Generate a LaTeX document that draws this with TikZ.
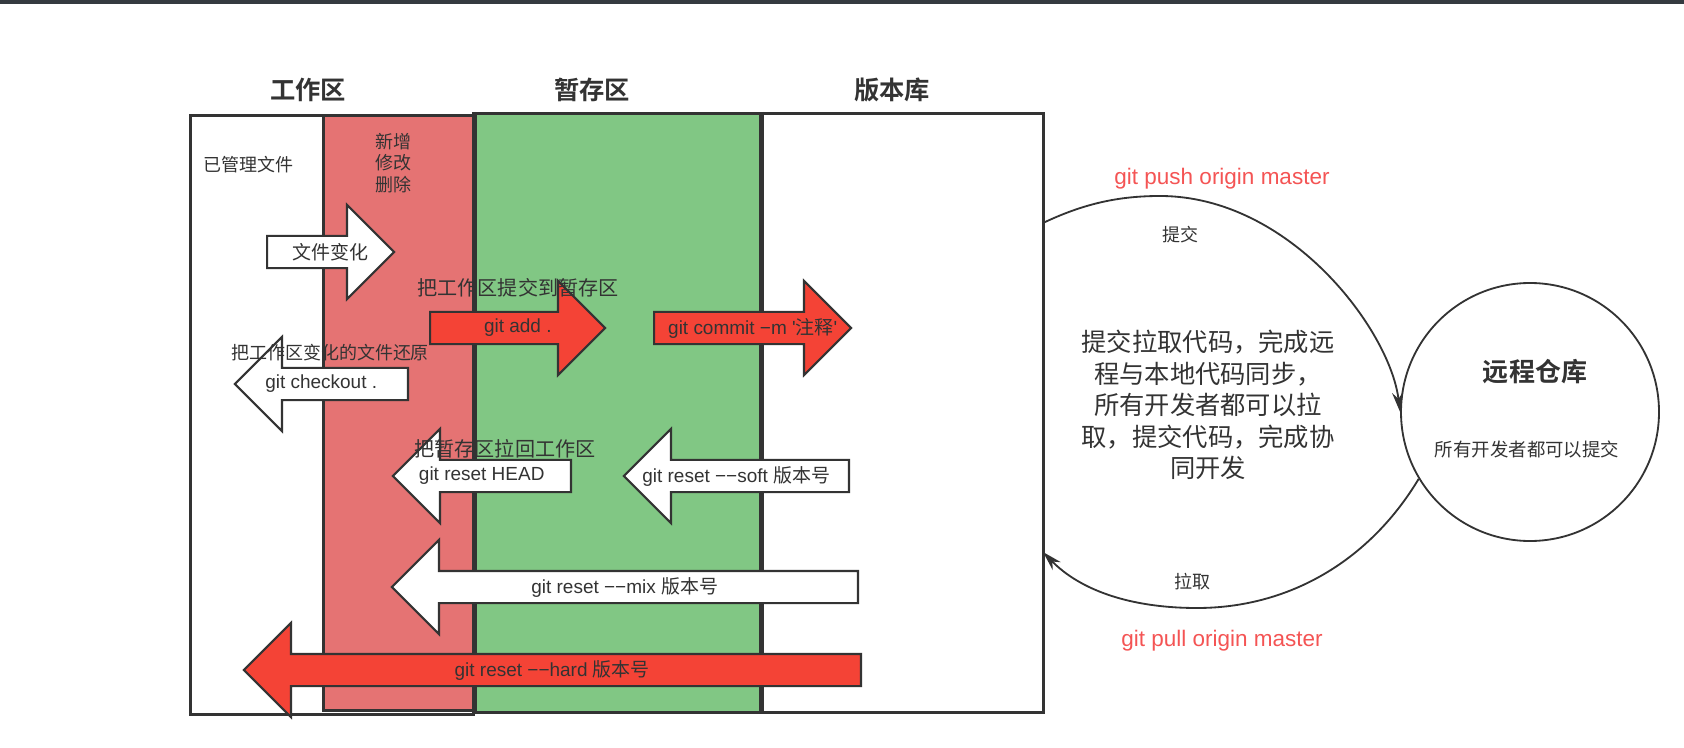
\documentclass[tikz,border=0pt]{standalone}
\usepackage{fontspec}
\setmainfont{Noto Sans CJK SC}[BoldFont={Noto Sans CJK SC Bold}]
\newfontfamily\gitfont{Liberation Sans}[Ligatures=TeXOff]
\newcommand\zh[1]{{\normalfont#1}}
\usetikzlibrary{shapes.arrows,arrows.meta,calc}

\definecolor{ink}{HTML}{333333}
\definecolor{wsred}{HTML}{E57373}
\definecolor{stgreen}{HTML}{81C784}
\definecolor{arrred}{HTML}{F44336}
\definecolor{cmdred}{HTML}{F45454}
\definecolor{topbar}{HTML}{353A40}

\begin{document}
\begin{tikzpicture}[x=0.025cm, y=-0.025cm,
  zone/.style={rectangle, draw=ink, line width=1.8pt, fill=#1, inner sep=0pt, anchor=north west},
  ttl/.style={font=\fontsize{18}{20}\selectfont\bfseries, text=ink},
  note/.style={font=\fontsize{12.8}{15.4}\selectfont, text=ink, inner sep=0pt, align=center},
  blk/.style={single arrow, draw=ink, line width=1.5pt, fill=#1, inner xsep=0pt,
    inner ysep=0.375cm, single arrow head extend=0.775cm, single arrow tip angle=90, anchor=tail},
  len/.style={minimum height=#1*0.025cm},
  atxt/.style={font=\gitfont\fontsize{13.5}{16}\selectfont, text=ink, inner sep=0pt},
  cmd/.style={font=\gitfont\fontsize{16}{18}\selectfont, text=cmdred},
  flow/.style={draw=ink, line width=1.3pt, -{Stealth[length=14pt, width=8pt]}}
]
\useasboundingbox (0,0) rectangle (1684,748);
\fill[topbar] (0,0) rectangle (1684,4);

% 三个区域
\node[zone=white, minimum width=283*0.025cm, minimum height=599*0.025cm] (work) at (189,114) {};
\node[zone=wsred, minimum width=150*0.025cm, minimum height=595*0.025cm] (dirty) at (322,114) {};
\node[zone=stgreen, minimum width=285*0.025cm, minimum height=599*0.025cm] (stage) at (474,112) {};
\node[zone=white, minimum width=283*0.025cm, minimum height=599*0.025cm] (repo) at (759,112) {};
\draw[ink, line width=3pt] (stage.north west) -- (stage.south west);
\draw[ink, line width=3pt] (stage.north east) -- (stage.south east);

\foreach \n/\x/\t in {work/308/工作区, stage/592/暂存区, repo/892/版本库}
  \node[ttl] (\n-t) at (\x,90) {\t};

% 操作箭头
\node[blk=white,  len=127] (chg) at (266,252) {};
\node[blk=arrred, len=175] (add) at (429,328) {};
\node[blk=arrred, len=197] (commit) at (653,328) {};
\node[blk=white,  len=173, rotate=180] (checkout) at (409,384) {};
\node[blk=white,  len=178, rotate=180] (rsthead) at (572,476) {};
\node[blk=white,  len=225, rotate=180] (soft) at (850,476) {};
\node[blk=white,  len=466, rotate=180] (mix) at (859,587) {};
\node[blk=arrred, len=617, rotate=180] (hard) at (862,670) {};

\foreach \n/\t in {chg/{\zh{文件变化}}, add/{git add .}, commit/{git commit −m '\zh{注释}'},
    checkout/{git checkout .}, rsthead/{git reset HEAD}, soft/{git reset −−soft \zh{版本号}},
    mix/{git reset −−mix \zh{版本号}}, hard/{git reset −−hard \zh{版本号}}}
  \node[atxt] (\n-t) at ($(\n.tail)!.5!(\n.tip)$) {\t};

\node[note] (managed) at (248,165) {已管理文件};
\node[note] (changes) at (393,163) {新增\\修改\\删除};
\node[note, font=\fontsize{14.3}{16}\selectfont] (tostage) at (518,288) {把工作区提交到暂存区};
\node[note] (restore) at (330,353) {把工作区变化的文件还原};
\node[note, font=\fontsize{14.3}{16}\selectfont] (towork) at (505,449) {把暂存区拉回工作区};

% 远程仓库
\node[circle, draw=ink, line width=1.3pt, minimum size=258*0.025cm, inner sep=0pt] (remote) at (1530,412) {};
\node[font=\fontsize{18.5}{20}\selectfont\bfseries, text=ink] (remote-t) at (1535,372) {远程仓库};
\node[note, font=\fontsize{13.1}{15}\selectfont] (remote-n) at (1527,449) {所有开发者都可以提交};
\node[align=center, font=\fontsize{18}{22.3}\selectfont, text=ink] (sync) at (1208,405)
  {提交拉取代码，完成远\\程与本地代码同步，\\所有开发者都可以拉\\取，提交代码，完成协\\同开发};

\coordinate (pushS) at (1043,223);
\coordinate (pullE) at (1043,552);
\draw[flow] (pushS) .. controls (1085,203) and (1120,196) .. (1160,196)
  .. controls (1290,196) and (1390,330) .. (remote.west);
\draw[flow] (remote.211) .. controls (1370,560) and (1290,608) .. (1197,608)
  .. controls (1130,608) and (1080,590) .. (pullE);
\node[note] (push-l) at (1180,235) {提交};
\node[note] (pull-l) at (1192,582) {拉取};
\node[cmd] (push) at (1222,179) {git push origin master};
\node[cmd] (pull) at (1222,641) {git pull origin master};
\end{tikzpicture}
\end{document}
